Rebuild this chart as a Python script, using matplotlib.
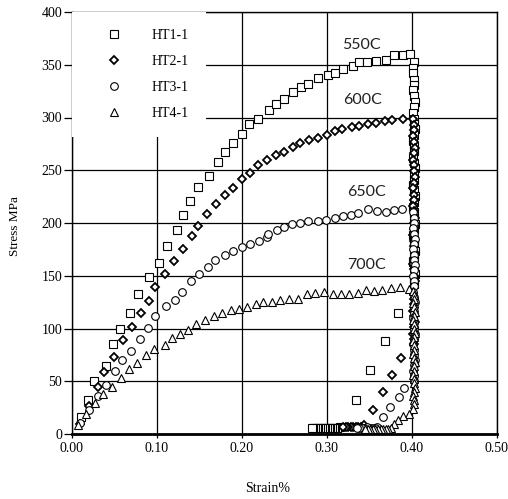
import matplotlib
matplotlib.use('Agg')
import matplotlib.pyplot as plt

# ---- data (strain %, stress MPa) ----
# HT1-1, 550C
ht1_load = [(0.010, 16), (0.019, 32.5), (0.026, 50.6), (0.040, 64.4), (0.048, 85),
            (0.057, 99.2), (0.068, 115), (0.078, 132.7), (0.090, 148.5), (0.102, 162),
            (0.112, 178.3), (0.123, 193), (0.130, 207.4), (0.139, 221), (0.148, 234),
            (0.161, 244.4), (0.172, 257.7), (0.180, 267.5), (0.190, 275.4), (0.200, 284.5),
            (0.208, 293.6), (0.219, 299), (0.232, 307), (0.240, 312.7), (0.249, 318),
            (0.260, 323.8), (0.269, 328.6), (0.278, 331.7), (0.289, 337), (0.301, 340.5),
            (0.309, 342.4), (0.319, 345.6), (0.330, 348.5), (0.338, 352.3), (0.347, 352.9),
            (0.358, 353.8), (0.369, 354.8), (0.379, 359), (0.389, 359.2), (0.398, 360.4)]
ht1_hold = [(0.402, 353), (0.401, 347), (0.401, 342), (0.402, 336), (0.402, 331),
            (0.401, 326), (0.402, 320), (0.403, 315), (0.402, 310), (0.401, 304),
            (0.402, 299), (0.402, 294), (0.403, 289), (0.402, 283), (0.401, 278),
            (0.402, 273), (0.402, 268), (0.401, 262), (0.402, 257), (0.403, 252),
            (0.402, 247), (0.402, 241), (0.401, 236), (0.402, 231), (0.403, 226),
            (0.402, 220), (0.401, 215), (0.402, 210), (0.402, 205), (0.403, 199),
            (0.402, 194), (0.401, 189), (0.402, 184), (0.402, 178), (0.403, 173),
            (0.402, 168), (0.401, 163), (0.402, 157), (0.403, 152), (0.402, 147),
            (0.402, 142)]
ht1_unload = [(0.384, 115), (0.368, 88.5), (0.351, 61), (0.334, 32), (0.315, 6.5),
              (0.312, 6), (0.310, 6), (0.308, 6), (0.306, 6), (0.304, 6), (0.302, 6),
              (0.300, 6), (0.298, 6), (0.296, 6), (0.294, 6), (0.292, 6), (0.290, 6),
              (0.288, 6), (0.286, 6), (0.284, 6), (0.282, 6)]

# HT2-1, 600C
ht2_load = [(0.009, 9.8), (0.020, 27), (0.031, 44.5), (0.038, 58.7), (0.049, 73),
            (0.060, 89.5), (0.070, 101.4), (0.081, 115), (0.090, 126), (0.098, 139.4),
            (0.109, 151.7), (0.120, 164), (0.130, 175.4), (0.141, 187.5), (0.148, 197.3),
            (0.159, 209), (0.169, 217.8), (0.180, 227), (0.190, 233), (0.200, 241.4),
            (0.209, 247.5), (0.219, 254.8), (0.229, 260), (0.240, 264.3), (0.249, 267.5),
            (0.260, 272), (0.268, 275.4), (0.279, 278.6), (0.290, 281), (0.300, 283.3),
            (0.310, 287), (0.318, 289), (0.329, 291.2), (0.338, 292), (0.348, 293.5),
            (0.358, 295), (0.368, 296.6), (0.377, 297.5), (0.389, 299)]
ht2_hold = [(0.401, 299), (0.402, 293), (0.402, 288), (0.401, 282), (0.402, 277),
            (0.403, 271), (0.402, 266), (0.401, 260), (0.402, 255), (0.402, 249),
            (0.403, 244), (0.402, 238), (0.401, 233), (0.402, 227), (0.402, 222),
            (0.401, 216), (0.402, 211), (0.403, 205), (0.402, 200), (0.402, 194),
            (0.401, 189), (0.402, 183), (0.402, 178), (0.403, 172), (0.402, 167),
            (0.401, 161), (0.402, 156), (0.402, 150), (0.403, 145), (0.402, 139),
            (0.401, 134), (0.402, 128), (0.402, 123), (0.401, 117), (0.402, 112),
            (0.403, 106), (0.402, 101), (0.401, 95), (0.402, 90), (0.402, 85)]
ht2_unload = [(0.387, 72.4), (0.377, 55.6), (0.366, 39.8), (0.354, 22.4), (0.343, 8.2),
              (0.340, 7), (0.337, 7), (0.334, 6.5), (0.331, 7), (0.328, 6.5),
              (0.325, 7), (0.322, 6.5), (0.319, 7)]

# HT3-1, 650C
ht3_load = [(0.009, 10.3), (0.020, 23), (0.030, 36), (0.040, 46), (0.051, 59.4),
            (0.059, 69.8), (0.069, 78.7), (0.080, 90.4), (0.089, 100.5), (0.098, 112),
            (0.111, 121), (0.121, 127.4), (0.129, 135), (0.140, 145), (0.150, 152),
            (0.160, 158.3), (0.168, 165.4), (0.180, 169.4), (0.190, 173.2), (0.200, 177.3),
            (0.209, 180.5), (0.220, 182.7), (0.229, 186.8), (0.231, 190), (0.241, 193.2),
            (0.249, 196.3), (0.259, 198.9), (0.268, 200), (0.278, 202), (0.290, 202),
            (0.299, 202.7), (0.309, 205.2), (0.319, 206.5), (0.328, 207.4), (0.337, 209.6),
            (0.348, 212.8), (0.359, 211.2), (0.369, 210.5), (0.379, 212.2), (0.388, 212.8)]
ht3_hold = [(0.401, 210), (0.402, 205), (0.402, 200), (0.401, 195), (0.402, 190),
            (0.403, 185), (0.402, 180), (0.401, 175), (0.402, 170), (0.402, 165),
            (0.403, 160), (0.402, 155), (0.401, 150), (0.402, 145), (0.402, 140),
            (0.401, 135), (0.402, 130), (0.403, 125), (0.402, 120), (0.402, 115),
            (0.401, 110), (0.402, 105), (0.402, 100), (0.403, 95), (0.402, 90),
            (0.401, 85), (0.402, 80), (0.402, 75), (0.403, 70), (0.402, 65),
            (0.401, 60), (0.402, 55), (0.402, 50)]
ht3_unload = [(0.391, 44), (0.385, 35), (0.374, 25.5), (0.366, 16), (0.359, 6.5),
              (0.356, 6), (0.353, 6), (0.350, 6), (0.347, 6.5), (0.344, 6),
              (0.341, 6), (0.338, 6), (0.335, 6)]

# HT4-1, 700C
ht4_load = [(0.0075, 9), (0.017, 19.3), (0.027, 29.3), (0.036, 37.6), (0.0475, 44.5),
            (0.058, 53.4), (0.067, 61.3), (0.077, 67.3), (0.087, 74.6), (0.097, 80.3),
            (0.109, 84.7), (0.118, 91.4), (0.127, 95.2), (0.136, 98.3), (0.146, 104.6),
            (0.156, 107.8), (0.167, 111.6), (0.176, 114.7), (0.187, 117.3), (0.196, 118.2),
            (0.206, 120.4), (0.217, 123.6), (0.225, 125), (0.235, 125), (0.245, 126.8),
            (0.255, 128.4), (0.266, 128.4), (0.276, 133), (0.286, 133.7), (0.297, 134.6),
            (0.307, 133), (0.316, 132.4), (0.326, 133), (0.336, 133.7), (0.346, 136.2),
            (0.355, 135.3), (0.365, 136.9), (0.375, 138.4), (0.386, 139.4), (0.396, 137.9)]
ht4_hold = [(0.401, 136), (0.402, 132), (0.402, 128), (0.401, 124), (0.402, 120),
            (0.403, 116), (0.402, 112), (0.401, 108), (0.402, 104), (0.402, 100),
            (0.403, 96), (0.402, 92), (0.401, 88), (0.402, 84), (0.402, 80),
            (0.401, 76), (0.402, 72), (0.403, 68), (0.402, 64), (0.402, 60),
            (0.401, 56), (0.402, 52), (0.402, 48), (0.403, 44), (0.402, 40),
            (0.401, 36), (0.402, 32), (0.402, 28), (0.401, 24)]
ht4_unload = [(0.396, 19.3), (0.390, 16.7), (0.384, 12.9), (0.379, 9.8), (0.375, 5.5),
              (0.372, 5), (0.369, 5), (0.366, 5), (0.363, 5), (0.360, 5),
              (0.357, 5), (0.354, 5), (0.351, 5), (0.348, 5), (0.345, 5)]

series = [
    ('HT1-1', ht1_load + ht1_hold + ht1_unload, 's', 5.5, 0.8),
    ('HT2-1', ht2_load + ht2_hold + ht2_unload, 'D', 4.0, 1.3),
    ('HT3-1', ht3_load + ht3_hold + ht3_unload, 'o', 5.5, 0.8),
    ('HT4-1', ht4_load + ht4_hold + ht4_unload, '^', 6.0, 0.8),
]

temp_labels = ['550C', '600C', '650C', '700C']
temp_pos = [(0.341, 368.7), (0.342, 316.4), (0.3465, 229.5), (0.3465, 160)]

x_ticks = [0.0, 0.1, 0.2, 0.3, 0.4, 0.5]
y_ticks = [0, 50, 100, 150, 200, 250, 300, 350, 400]

plt.rcParams['font.family'] = ['Liberation Serif', 'DejaVu Serif']

fig = plt.figure(figsize=(5.08, 4.99), dpi=100)
ax = fig.add_axes([72 / 508, 1 - 434 / 499, 425 / 508, 422 / 499])

for name, pts, mk, ms, mew in series:
    xs = [p[0] for p in pts]
    ys = [p[1] for p in pts]
    ax.plot(xs, ys, linestyle='none', marker=mk, markersize=ms,
            markerfacecolor='white', markeredgecolor='black',
            markeredgewidth=mew, label=name, zorder=3)

for txt, (tx, ty) in zip(temp_labels, temp_pos):
    ax.text(tx, ty, txt, family='Lato', fontsize=11.5, ha='center',
            va='center', color='#222222', zorder=4)

ax.set_xlim(0, 0.5)
ax.set_ylim(0, 400)
ax.set_xticks(x_ticks)
ax.set_xticklabels(['%.2f' % v for v in x_ticks])
ax.set_yticks(y_ticks)
ax.grid(True, color='black', linewidth=0.9, zorder=0)
ax.set_axisbelow(True)

ax.tick_params(axis='both', labelsize=10, colors='black', width=0.9)
ax.tick_params(axis='y', direction='out', length=6, pad=1)
ax.tick_params(axis='x', direction='out', length=3, pad=3)

for side in ['top', 'right', 'left']:
    ax.spines[side].set_linewidth(1.0)
ax.spines['bottom'].set_linewidth(2.0)

ax.set_xlabel('Strain%', fontsize=10)
ax.xaxis.set_label_coords(0.461, -0.114)
ax.set_ylabel('Stress MPa', fontsize=9.5)
ax.yaxis.set_label_coords(-0.12, 0.493)

leg = ax.legend(loc='upper left', bbox_to_anchor=(0, 1), borderaxespad=0,
                fontsize=10, numpoints=1, borderpad=1.22, labelspacing=0.94,
                handlelength=3.6, handletextpad=0.94, frameon=True,
                fancybox=False)
leg.get_frame().set_facecolor('white')
leg.get_frame().set_edgecolor('none')
leg.get_frame().set_alpha(1)
leg.set_zorder(5)

fig.savefig('out.png', dpi=100)
